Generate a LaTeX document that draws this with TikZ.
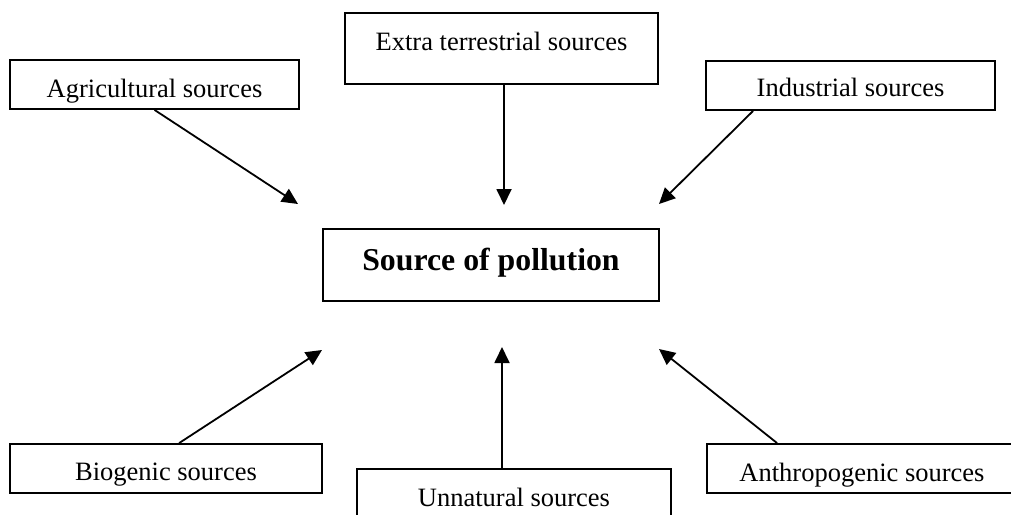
\documentclass[tikz,border=0pt]{standalone}
\usepackage{fontspec}
\setmainfont{Liberation Serif}
\usetikzlibrary{arrows.meta}

\begin{document}
\begin{tikzpicture}[x=1pt, y=-1pt,
  caixa/.style={draw, line width=1.8pt, inner sep=0pt, anchor=base,
    font=\fontsize{26.5}{30}\selectfont},
  seta/.style={line width=1.8pt, -{Triangle[length=16pt, width=15pt]}}]
  \useasboundingbox (0,0) rectangle (1011,514);
  % caixas de cima
  \node[caixa, minimum width=289pt, text height=37.7pt, text depth=11.3pt] (agri) at (154.5,97.7) {Agricultural sources};
  \node[caixa, minimum width=313pt, text height=37pt, text depth=34pt] (extra) at (501.5,50) {Extra terrestrial sources};
  \node[caixa, minimum width=289pt, text height=35.7pt, text depth=13.3pt] (ind) at (850.5,96.7) {Industrial sources};
  % centro
  \node[caixa, minimum width=336pt, text height=41pt, text depth=31pt,
    font=\fontsize{31.8}{36}\selectfont\bfseries] (poll) at (491,270) {Source of pollution};
  % caixas de baixo
  \node[caixa, minimum width=312pt, text height=36pt, text depth=13pt] (bio) at (166,480) {Biogenic sources};
  \node[caixa, minimum width=314pt, text height=37pt, text depth=20pt] (unnat) at (514,506) {Unnatural sources};
  \node[caixa, minimum width=310pt, text height=37pt, text depth=12pt] (anthro) at (862,481) {Anthropogenic sources};
  % setas
  \coordinate (tA) at (298,204);
  \coordinate (tE) at (504,205);
  \coordinate (tI) at (659,204);
  \coordinate (tB) at (322,350);
  \coordinate (tU) at (502,347);
  \coordinate (tN) at (659,349);
  \draw[seta] (agri.south) -- (tA);
  \draw[seta] (extra.south -| tE) -- (tE);
  \draw[seta] ([xshift=48pt]ind.south west) -- (tI);
  \draw[seta] ([xshift=170pt]bio.north west) -- (tB);
  \draw[seta] (unnat.north -| tU) -- (tU);
  \draw[seta] ([xshift=71pt]anthro.north west) -- (tN);
\end{tikzpicture}
\end{document}
